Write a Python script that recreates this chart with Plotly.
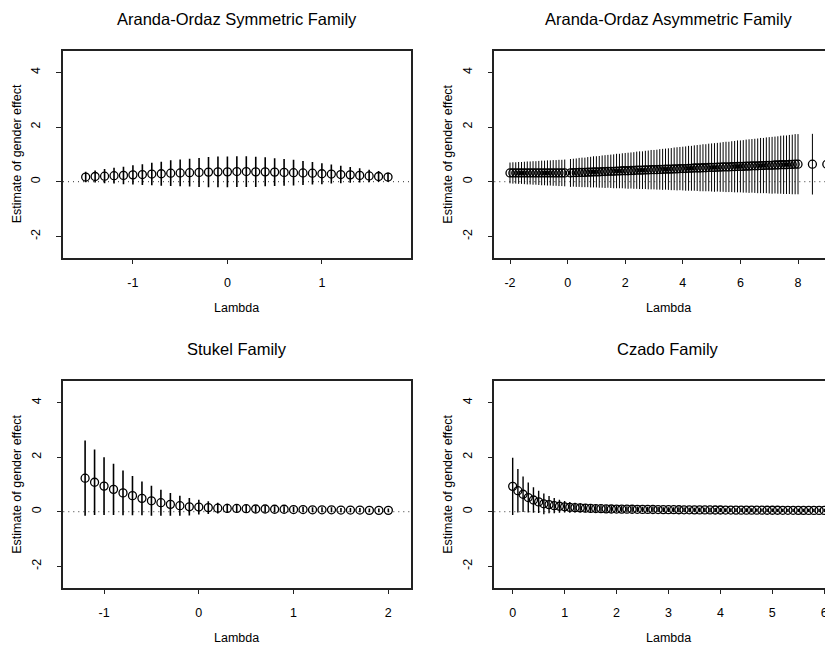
import plotly.graph_objects as go

# ---------------- data ----------------
lam_sym = [-1.5,-1.4,-1.3,-1.2,-1.1,-1.0,-0.9,-0.8,-0.7,-0.6,-0.5,-0.4,-0.3,-0.2,-0.1,0.0,
           0.1,0.2,0.3,0.4,0.5,0.6,0.7,0.8,0.9,1.0,1.1,1.2,1.3,1.4,1.5,1.6,1.7]
est_sym = [0.17,0.19,0.20,0.22,0.23,0.25,0.26,0.28,0.29,0.31,0.32,0.33,0.34,0.35,0.36,0.36,
           0.37,0.37,0.36,0.36,0.35,0.34,0.33,0.32,0.31,0.29,0.28,0.26,0.25,0.23,0.21,0.19,0.17]
hw_sym = [0.19,0.22,0.26,0.29,0.32,0.35,0.38,0.41,0.44,0.47,0.49,0.51,0.53,0.55,0.56,0.56,
          0.56,0.56,0.55,0.53,0.51,0.49,0.47,0.44,0.41,0.38,0.35,0.32,0.29,0.26,0.23,0.20,0.17]

lam_asym = [-2.0,-1.9,-1.8,-1.7,-1.6,-1.5,-1.4,-1.3,-1.2,-1.1,-1.0,-0.9,-0.8,-0.7,-0.6,-0.5,-0.4,-0.3,-0.2,-0.1,
            0.1,0.2,0.3,0.4,0.5,0.6,0.7,0.8,0.9,1.0,
            1.1,1.2,1.3,1.4,1.5,1.6,1.7,1.8,1.9,2.0,
            2.1,2.2,2.3,2.4,2.5,2.6,2.7,2.8,2.9,3.0,
            3.1,3.2,3.3,3.4,3.5,3.6,3.7,3.8,3.9,4.0,
            4.1,4.2,4.3,4.4,4.5,4.6,4.7,4.8,4.9,5.0,
            5.1,5.2,5.3,5.4,5.5,5.6,5.7,5.8,5.9,6.0,
            6.1,6.2,6.3,6.4,6.5,6.6,6.7,6.8,6.9,7.0,
            7.1,7.2,7.3,7.4,7.5,7.6,7.7,7.8,7.9,8.0,
            8.5,9.0]
est_asym = [0.32,0.32,0.32,0.32,0.32,0.32,0.32,0.32,0.32,0.32,0.32,0.32,0.32,0.32,0.32,0.32,0.32,0.32,0.32,0.32,
            0.32,0.33,0.33,0.34,0.34,0.34,0.35,0.35,0.36,0.36,
            0.36,0.37,0.37,0.38,0.38,0.38,0.39,0.39,0.40,0.40,
            0.40,0.41,0.41,0.42,0.42,0.42,0.43,0.43,0.44,0.44,
            0.44,0.45,0.45,0.46,0.46,0.46,0.47,0.47,0.48,0.48,
            0.48,0.49,0.49,0.50,0.50,0.50,0.51,0.51,0.52,0.52,
            0.52,0.53,0.53,0.54,0.54,0.54,0.55,0.55,0.56,0.56,
            0.56,0.57,0.57,0.58,0.58,0.58,0.59,0.59,0.60,0.60,
            0.60,0.61,0.61,0.62,0.62,0.62,0.63,0.63,0.64,0.64,
            0.64,0.64]
hw_asym = [0.38,0.39,0.39,0.40,0.40,0.41,0.42,0.42,0.43,0.43,0.44,0.45,0.45,0.46,0.46,0.47,0.47,0.48,0.48,0.49,
           0.51,0.51,0.52,0.53,0.54,0.54,0.55,0.56,0.57,0.57,
           0.58,0.59,0.60,0.60,0.61,0.62,0.63,0.63,0.64,0.65,
           0.66,0.66,0.67,0.68,0.69,0.69,0.70,0.71,0.72,0.72,
           0.73,0.74,0.75,0.75,0.76,0.77,0.78,0.79,0.79,0.80,
           0.81,0.82,0.82,0.83,0.84,0.85,0.86,0.86,0.87,0.88,
           0.89,0.89,0.90,0.91,0.92,0.92,0.93,0.94,0.95,0.95,
           0.96,0.97,0.98,0.98,0.99,1.00,1.01,1.01,1.02,1.03,
           1.04,1.04,1.05,1.06,1.07,1.07,1.08,1.09,1.10,1.10,
           1.11,1.12]

lam_stu = [-1.2,-1.1,-1.0,-0.9,-0.8,-0.7,-0.6,-0.5,-0.4,-0.3,-0.2,-0.1,0.0,
           0.1,0.2,0.3,0.4,0.5,0.6,0.7,0.8,0.9,1.0,1.1,1.2,1.3,1.4,1.5,1.6,1.7,1.8,1.9,2.0]
est_stu = [1.23,1.08,0.94,0.82,0.69,0.59,0.49,0.40,0.33,0.27,0.22,0.18,0.17,
           0.15,0.13,0.12,0.12,0.11,0.10,0.10,0.09,0.09,0.08,0.08,0.07,0.07,0.07,0.06,0.06,0.06,0.05,0.05,0.05]
hw_stu = [1.38,1.20,1.06,0.94,0.82,0.72,0.62,0.55,0.48,0.42,0.37,0.32,0.27,
          0.23,0.20,0.17,0.15,0.14,0.13,0.12,0.11,0.11,0.10,0.10,0.09,0.09,0.09,0.08,0.08,0.08,0.07,0.07,0.07]

lam_cz = [0.0,0.1,0.2,0.3,0.4,0.5,0.6,0.7,0.8,0.9,
          1.0,1.1,1.2,1.3,1.4,1.5,1.6,1.7,1.8,1.9,
          2.0,2.1,2.2,2.3,2.4,2.5,2.6,2.7,2.8,2.9,
          3.0,3.1,3.2,3.3,3.4,3.5,3.6,3.7,3.8,3.9,
          4.0,4.1,4.2,4.3,4.4,4.5,4.6,4.7,4.8,4.9,
          5.0,5.1,5.2,5.3,5.4,5.5,5.6,5.7,5.8,5.9,
          6.0]
est_cz = [0.93,0.77,0.64,0.52,0.43,0.36,0.29,0.26,0.22,0.20,
          0.18,0.16,0.15,0.14,0.13,0.12,0.115,0.11,0.105,0.10,
          0.098,0.095,0.092,0.09,0.088,0.085,0.083,0.081,0.079,0.077,
          0.075,0.074,0.072,0.071,0.069,0.068,0.067,0.066,0.064,0.063,
          0.062,0.061,0.060,0.059,0.058,0.057,0.057,0.056,0.055,0.054,
          0.054,0.053,0.052,0.052,0.051,0.050,0.050,0.049,0.049,0.048,
          0.048]
hw_cz = [1.05,0.80,0.65,0.55,0.47,0.41,0.38,0.32,0.28,0.24,
         0.21,0.20,0.18,0.17,0.15,0.15,0.14,0.13,0.13,0.12,
         0.12,0.11,0.11,0.11,0.10,0.10,0.10,0.10,0.09,0.09,
         0.09,0.09,0.09,0.08,0.08,0.08,0.08,0.08,0.08,0.07,
         0.07,0.07,0.07,0.07,0.07,0.07,0.07,0.06,0.06,0.06,
         0.06,0.06,0.06,0.06,0.06,0.06,0.06,0.06,0.06,0.06,
         0.06]

titles = ["Aranda-Ordaz Symmetric Family", "Aranda-Ordaz Asymmetric Family",
          "Stukel Family", "Czado Family"]
xtick_sets = [[-1, 0, 1], [-2, 0, 2, 4, 6, 8], [-1, 0, 1, 2], [0, 1, 2, 3, 4, 5, 6]]
ytick_vals = [-2, 0, 2, 4]
xlabel = "Lambda"
ylabel = "Estimate of gender effect"

# ---------------- layout geometry (page pixels) ----------------
OFF = 8                      # default body margin of the html page
W, H = 833 - OFF, 646 - OFF  # figure size so that it ends at the window edge
FONT = "Liberation Sans, Arial, Helvetica, sans-serif"


def px(x):
    return (x - OFF) / W


def py(y):
    return 1 - (y - OFF) / H


panels = [
    dict(x0=63.0, x1=410.7, y0=51.0, y1=257.7, xr=[-1.74, 1.94]),
    dict(x0=494.3, x1=833.0, y0=51.0, y1=257.7, xr=[-2.545, 9.215]),
    dict(x0=63.3, x1=410.7, y0=381.4, y1=587.5, xr=[-1.43, 2.236]),
    dict(x0=494.3, x1=833.0, y0=381.4, y1=587.5, xr=[-0.354, 6.168]),
]
title_centers = [236.9, 668.0, 236.9, 668.0]
series = [(lam_sym, est_sym, hw_sym, 1.6), (lam_asym, est_asym, hw_asym, 1.0),
          (lam_stu, est_stu, hw_stu, 1.6), (lam_cz, est_cz, hw_cz, 1.4)]

fig = go.Figure()
shapes = []
annotations = []
for i, (p, (lx, ey, hw, th)) in enumerate(zip(panels, series)):
    n = "" if i == 0 else str(i + 1)
    fig.add_trace(go.Scatter(
        x=lx, y=ey, mode="markers", xaxis="x" + n, yaxis="y" + n,
        marker=dict(symbol="circle-open", size=8, color="black", line=dict(width=1.3, color="black")),
        error_y=dict(type="data", array=hw, symmetric=True, width=0, thickness=th, color="black"),
        showlegend=False, hoverinfo="x+y"))
    right_cut = p["x1"] >= 833
    fig.update_layout(**{
        "xaxis" + n: dict(domain=[px(p["x0"]), min(px(p["x1"]), 1.0)], range=p["xr"],
                          anchor="y" + n, showline=True, mirror=True, linecolor="#222", linewidth=1.5,
                          ticks="outside", ticklen=5, tickwidth=1.2, tickcolor="#222",
                          tickvals=xtick_sets[i], ticktext=[str(v) for v in xtick_sets[i]],
                          showgrid=False, zeroline=False, ticklabelstandoff=8,
                          tickfont=dict(family=FONT, size=12.5, color="black")),
        "yaxis" + n: dict(domain=[py(p["y1"]), py(p["y0"])], range=[-2.78, 4.78],
                          anchor="x" + n, showline=True, mirror=not right_cut, linecolor="#222",
                          linewidth=1.5, ticks="outside", ticklen=5, tickwidth=1.2, tickcolor="#222",
                          tickvals=ytick_vals, ticktext=[str(v) for v in ytick_vals], tickangle=-90,
                          showgrid=False, zeroline=False, ticklabelstandoff=11,
                          tickfont=dict(family=FONT, size=12.5, color="black")),
    })
    shapes.append(dict(type="line", xref="x" + n + " domain", yref="y" + n, x0=0, x1=1, y0=0, y1=0,
                       line=dict(color="#333", width=1, dash="1px,4px"), layer="below"))
    cx = title_centers[i]
    annotations.append(dict(text=titles[i], x=px(cx), y=py(p["y0"] - 32), xref="paper", yref="paper",
                            showarrow=False, xanchor="center", yanchor="middle",
                            font=dict(family=FONT, size=16.5, color="black")))
    annotations.append(dict(text=xlabel, x=px(cx), y=py(p["y1"] + 50), xref="paper", yref="paper",
                            showarrow=False, xanchor="center", yanchor="middle",
                            font=dict(family=FONT, size=12.5, color="black")))
    annotations.append(dict(text=ylabel, x=px(p["x0"] - 46), y=py((p["y0"] + p["y1"]) / 2),
                            xref="paper", yref="paper", textangle=-90,
                            showarrow=False, xanchor="center", yanchor="middle",
                            font=dict(family=FONT, size=12.5, color="black")))

fig.update_layout(width=W, height=H, margin=dict(l=0, r=0, t=0, b=0),
                  paper_bgcolor="white", plot_bgcolor="white",
                  shapes=shapes, annotations=annotations)
fig.write_html("out.html")
